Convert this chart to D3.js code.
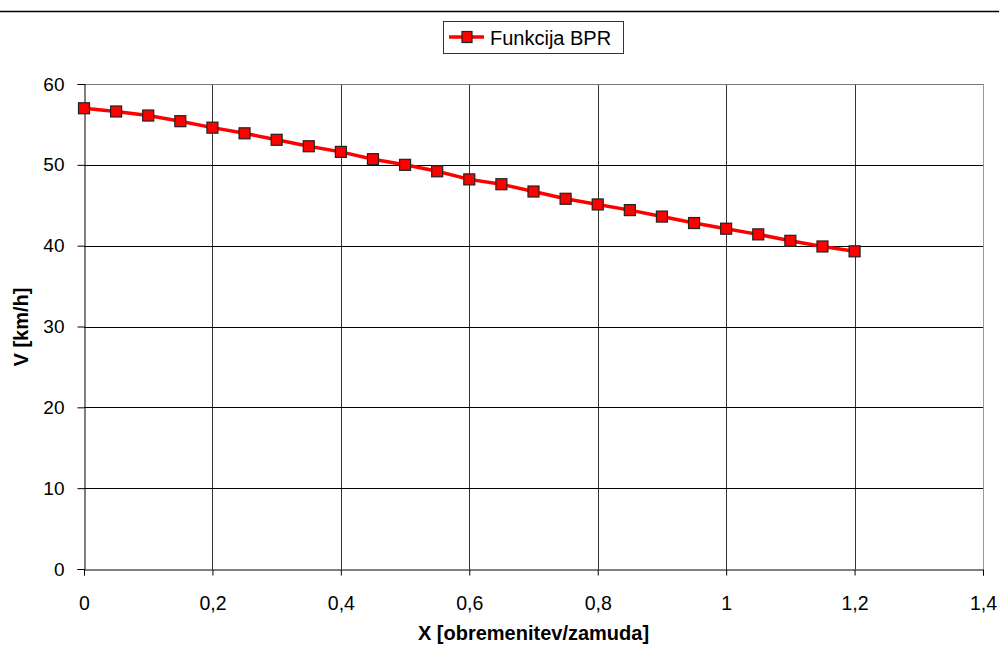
<!DOCTYPE html>
<html><head><meta charset="utf-8">
<script src="https://cdn.jsdelivr.net/npm/d3@7"></script>
<style>body{margin:0;background:#fff}svg{display:block}text{font-family:"Liberation Sans",Arial,sans-serif}</style>
</head><body><svg id="c" width="999" height="648"></svg>
<script>
const xValues = [0,0.05,0.1,0.15,0.2,0.25,0.3,0.35,0.4,0.45,0.5,0.55,0.6,0.65,0.7,0.75,0.8,0.85,0.9,0.95,1.0,1.05,1.1,1.15,1.2];
const vValues = [57.0,56.6,56.1,55.4,54.6,53.9,53.1,52.3,51.6,50.7,50.0,49.2,48.2,47.6,46.7,45.8,45.1,44.4,43.6,42.8,42.1,41.4,40.6,39.9,39.3];
const xTicks = [0,0.2,0.4,0.6,0.8,1,1.2,1.4];
const yTicks = [0,10,20,30,40,50,60];
const seriesName = "Funkcija BPR";
const xTitle = "X [obremenitev/zamuda]";
const yTitle = "V [km/h]";

const svg = d3.select("#c");
const L=84, R=983, T=84, B=569;
const x = d3.scaleLinear().domain([0,1.4]).range([L,R]);
const y = d3.scaleLinear().domain([0,60]).range([B,T]);

svg.append("rect").attr("width",999).attr("height",648).attr("fill","#fff");
svg.append("line").attr("x1",0).attr("x2",999).attr("y1",11.5).attr("y2",11.5).attr("stroke","#000").attr("stroke-width",1.5);

// gridlines
svg.append("g").selectAll("line").data(xTicks.slice(1)).join("line")
  .attr("x1",d=>Math.round(x(d))+0.5).attr("x2",d=>Math.round(x(d))+0.5).attr("y1",T).attr("y2",B)
  .attr("stroke",d=>d===1.4?"#999":"#333").attr("stroke-width",1);
svg.append("g").selectAll("line").data(yTicks.slice(1)).join("line")
  .attr("x1",L).attr("x2",R).attr("y1",d=>Math.round(y(d))+0.5).attr("y2",d=>Math.round(y(d))+0.5)
  .attr("stroke",d=>d===60?"#777":"#000").attr("stroke-width",1);

// axes
const xAxis = d3.axisBottom(x).tickValues(xTicks).tickSize(6).tickPadding(21)
  .tickFormat(d=>String(d).replace(".",","));
const gx = svg.append("g").attr("transform",`translate(0,${B+0.5})`).call(xAxis);
gx.select(".domain").attr("stroke","#000");
gx.selectAll(".tick line").attr("stroke","#000");
gx.selectAll("text").attr("font-size",19.5).attr("fill","#000").attr("font-family","Liberation Sans, Arial, sans-serif");

const yAxis = d3.axisLeft(y).tickValues(yTicks).tickSize(7).tickPadding(13);
const gy = svg.append("g").attr("transform",`translate(${L+0.5},0)`).call(yAxis);
gy.select(".domain").attr("stroke","#000");
gy.selectAll(".tick line").attr("stroke","#000");
gy.selectAll("text").attr("font-size",19).attr("fill","#000").attr("font-family","Liberation Sans, Arial, sans-serif");

// titles
svg.append("text").attr("x",(L+R)/2).attr("y",640).attr("text-anchor","middle")
  .attr("font-weight","bold").attr("font-size",20).text(xTitle);
svg.append("text").attr("transform",`translate(28,327) rotate(-90)`).attr("text-anchor","middle")
  .attr("font-weight","bold").attr("font-size",20).text(yTitle);

// series
const pts = xValues.map((d,i)=>[d,vValues[i]]);
svg.append("path").datum(pts).attr("fill","none").attr("stroke","#f00").attr("stroke-width",3.5)
  .attr("d",d3.line().x(d=>x(d[0])).y(d=>y(d[1])));
svg.append("g").selectAll("rect").data(pts).join("rect")
  .attr("x",d=>x(d[0])-5.5).attr("y",d=>y(d[1])-5.5).attr("width",11).attr("height",11)
  .attr("fill","#f00").attr("stroke","#222").attr("stroke-width",1.2);

// legend
const lg = svg.append("g");
lg.append("rect").attr("x",443.5).attr("y",21.5).attr("width",180).attr("height",32).attr("fill","#fff").attr("stroke","#333");
lg.append("line").attr("x1",449).attr("x2",484).attr("y1",37).attr("y2",37).attr("stroke","#f00").attr("stroke-width",3.5);
lg.append("rect").attr("x",462).attr("y",31.5).attr("width",10).attr("height",11).attr("fill","#f00").attr("stroke","#222").attr("stroke-width",1.2);
lg.append("text").attr("x",490).attr("y",44.5).attr("font-size",20).text(seriesName);
</script></body></html>
